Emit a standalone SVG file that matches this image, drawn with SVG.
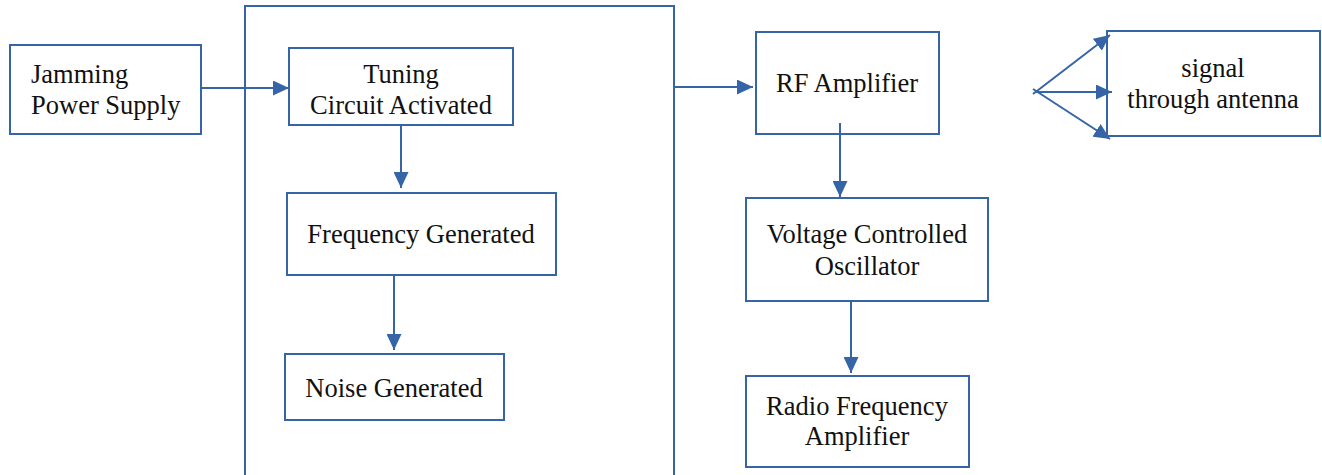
<svg xmlns="http://www.w3.org/2000/svg" width="1322" height="475" viewBox="0 0 1322 475">
<defs>
<style>
.box{fill:#fff;stroke:#3565a6;stroke-width:2}
.frame{fill:none;stroke:#3565a6;stroke-width:2}
.c{fill:none;stroke:#3565a6;stroke-width:2}
text{font-family:"Liberation Serif","Times New Roman",serif;font-size:26.5px;fill:#111}
.m{text-anchor:middle}
</style>
<marker id="ah" markerWidth="16" markerHeight="15" refX="16" refY="7.5" orient="auto" markerUnits="userSpaceOnUse">
<path d="M0,0 L16,7.5 L0,15 Z" fill="#3565a6"/>
</marker>
</defs>
<rect width="1322" height="475" fill="#fff"/>
<g id="frame"><rect class="frame" x="245" y="6" width="429" height="480"/></g>
<g id="jamming"><rect class="box" x="10" y="45" width="191" height="89"/><text x="31" y="83">Jamming</text><text x="31" y="114">Power Supply</text></g>
<g id="tuning"><rect class="box" x="289" y="48" width="224" height="77"/><text class="m" x="401" y="83">Tuning</text><text class="m" x="401" y="114">Circuit Activated</text></g>
<g id="frequency"><rect class="box" x="287" y="193" width="269" height="82"/><text class="m" x="421" y="243">Frequency Generated</text></g>
<g id="noise"><rect class="box" x="285" y="354" width="219" height="66"/><text class="m" x="394" y="397">Noise Generated</text></g>
<g id="rf"><rect class="box" x="756" y="32" width="183" height="102"/><text class="m" x="847" y="92">RF Amplifier</text></g>
<g id="vco"><rect class="box" x="746" y="198" width="242" height="103"/><text class="m" x="867" y="243">Voltage Controlled</text><text class="m" x="867" y="275">Oscillator</text></g>
<g id="rfa"><rect class="box" x="746" y="376" width="223" height="91"/><text class="m" x="857" y="415">Radio Frequency</text><text class="m" x="857" y="445">Amplifier</text></g>
<g id="signal"><rect class="box" x="1107" y="31" width="213" height="105"/><text class="m" x="1213" y="77">signal</text><text class="m" x="1213" y="108">through antenna</text></g>
<g id="connectors">
<line class="c" x1="201" y1="88" x2="289" y2="88" marker-end="url(#ah)"/>
<line class="c" x1="401" y1="125" x2="401" y2="188" marker-end="url(#ah)"/>
<line class="c" x1="394" y1="275" x2="394" y2="350" marker-end="url(#ah)"/>
<line class="c" x1="675" y1="87" x2="753" y2="87" marker-end="url(#ah)"/>
<line class="c" x1="840" y1="123" x2="840" y2="197" marker-end="url(#ah)"/>
<line class="c" x1="851" y1="300" x2="851" y2="373" marker-end="url(#ah)"/>
<line class="c" x1="1033" y1="94" x2="1110" y2="35" marker-end="url(#ah)"/>
<line class="c" x1="1035" y1="92" x2="1112" y2="92" marker-end="url(#ah)"/>
<line class="c" x1="1033" y1="89" x2="1110" y2="139" marker-end="url(#ah)"/>
</g>
</svg>
